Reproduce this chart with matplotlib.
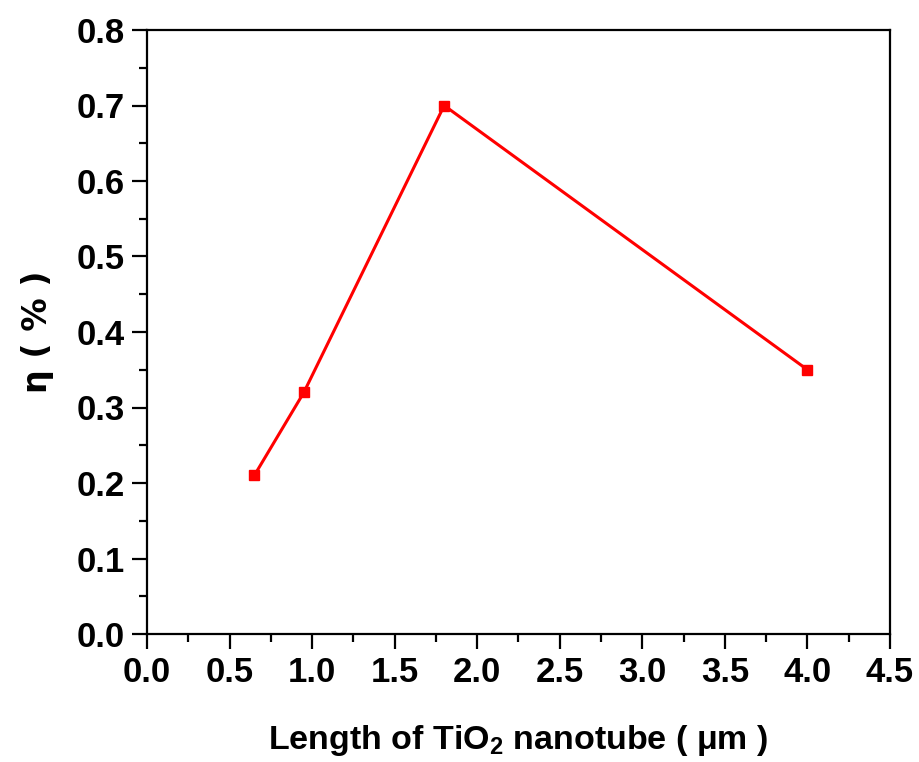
import matplotlib
matplotlib.use("Agg")
import matplotlib.pyplot as plt
from matplotlib.ticker import MultipleLocator

length_um = [0.65, 0.95, 1.8, 4.0]
efficiency = [0.21, 0.32, 0.70, 0.35]

plt.rcParams['font.family'] = ['Liberation Sans', 'DejaVu Sans']
plt.rcParams['font.weight'] = 'bold'
plt.rcParams['mathtext.fontset'] = 'custom'
plt.rcParams['mathtext.rm'] = 'Liberation Sans:bold'
plt.rcParams['mathtext.bf'] = 'Liberation Sans:bold'

fig = plt.figure(figsize=(9.2, 7.62), dpi=100)
ax = fig.add_axes([147/920, 1-634/762, (890-147)/920, (634-30)/762])

ax.plot(length_um, efficiency, color='#ff0000', lw=2.2, marker='s', ms=7.5, mec='#ff0000', mfc='#ff0000')

ax.set_xlim(0, 4.5)
ax.set_ylim(0, 0.8)
ax.xaxis.set_major_locator(MultipleLocator(0.5))
ax.xaxis.set_minor_locator(MultipleLocator(0.25))
ax.yaxis.set_major_locator(MultipleLocator(0.1))
ax.yaxis.set_minor_locator(MultipleLocator(0.05))
ax.xaxis.set_major_formatter(plt.FormatStrFormatter('%.1f'))
ax.yaxis.set_major_formatter(plt.FormatStrFormatter('%.1f'))

for s in ax.spines.values():
    s.set_linewidth(1.6)
ax.tick_params(which='major', direction='out', length=11, width=1.6, labelsize=25, pad=5)
ax.tick_params(which='minor', direction='out', length=5.5, width=1.6)
for lab in ax.get_xticklabels() + ax.get_yticklabels():
    lab.set_fontweight('bold')

ax.set_xlabel(r'Length of TiO$_\mathbf{2}$ nanotube ( μm )', fontsize=24.5, fontweight='bold', labelpad=24)
ax.set_ylabel('η ( % )', fontsize=24, fontweight='bold', labelpad=16, family=['DejaVu Sans'])

fig.savefig('out.png', dpi=100)
